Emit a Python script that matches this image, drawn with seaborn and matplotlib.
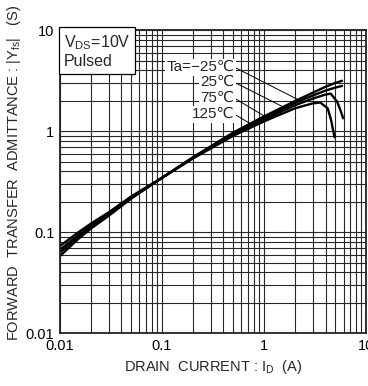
import numpy as np
import pandas as pd
import matplotlib
matplotlib.use("Agg")
import matplotlib.pyplot as plt
import seaborn as sns

# Data
temps = ["-25", "25", "75", "125"]
x_m25 = [0.01, 0.015, 0.02, 0.03, 0.05, 0.1, 0.2, 0.5, 1.0, 2.0, 3.0, 4.0, 5.0, 5.8]
y_m25 = [0.058, 0.085, 0.108, 0.145, 0.215, 0.345, 0.55, 0.97, 1.40, 1.98, 2.40, 2.75, 3.00, 3.15]
x_25 = [0.01, 0.015, 0.02, 0.03, 0.05, 0.1, 0.2, 0.5, 1.0, 2.0, 3.0, 4.0, 5.0, 5.8]
y_25 = [0.063, 0.089, 0.112, 0.149, 0.219, 0.345, 0.545, 0.95, 1.35, 1.90, 2.25, 2.52, 2.70, 2.80]
x_75 = [0.01, 0.015, 0.02, 0.03, 0.05, 0.1, 0.2, 0.5, 1.0, 2.0, 3.0, 4.0, 4.5, 5.2, 5.6, 5.95]
y_75 = [0.067, 0.093, 0.116, 0.153, 0.222, 0.345, 0.54, 0.93, 1.30, 1.80, 2.10, 2.30, 2.35, 1.95, 1.61, 1.34]
x_125 = [0.01, 0.015, 0.02, 0.03, 0.05, 0.1, 0.2, 0.5, 1.0, 2.0, 2.6, 3.0, 3.55, 4.2, 4.53, 4.9]
y_125 = [0.073, 0.099, 0.121, 0.157, 0.226, 0.345, 0.535, 0.90, 1.25, 1.68, 1.81, 1.88, 1.92, 1.68, 1.29, 0.87]

xs = [x_m25, x_25, x_75, x_125]
ys = [y_m25, y_25, y_75, y_125]

rows = []
for t, xx, yy in zip(temps, xs, ys):
    for i, (a, b) in enumerate(zip(xx, yy)):
        rows.append({"Ta": t, "order": i, "Id": a, "Yfs": b})
df = pd.DataFrame(rows)

sns.set_style("white")
plt.rcParams["font.family"] = ["Liberation Sans", "DejaVu Sans"]
plt.rcParams["mathtext.fontset"] = "custom"
plt.rcParams["mathtext.rm"] = "Liberation Sans"

fig = plt.figure(figsize=(3.68, 3.86), dpi=100)
ax = fig.add_axes([0.163, 0.137, 0.832, 0.785])

sns.lineplot(data=df, x="Id", y="Yfs", hue="Ta", units="Ta", estimator=None,
             sort=False, palette=["black"] * 4, linewidth=1.7, legend=False, ax=ax)

ax.set_xscale("log")
ax.set_yscale("log")
ax.set_xlim(0.01, 10)
ax.set_ylim(0.01, 10)
ax.grid(which="both", color="#262626", linewidth=0.8)
ax.set_axisbelow(True)
for s in ax.spines.values():
    s.set_color("#222222")
    s.set_linewidth(1.3)
ax.tick_params(which="both", length=0, labelsize=10.5, pad=4, colors="black")
ax.set_xticks([0.01, 0.1, 1, 10])
ax.set_xticklabels(["0.01", "0.1", "1", "10"])
ax.set_yticks([0.01, 0.1, 1, 10])
ax.set_yticklabels(["0.01", "0.1", "1", "10"])

ax.set_xlabel("DRAIN  CURRENT : I$_{\\mathrm{D}}$  (A)", fontsize=10.5, labelpad=4)
ax.set_ylabel("FORWARD  TRANSFER  ADMITTANCE : |Y$_{\\mathrm{fs}}$|   (S)", fontsize=10.5)
ax.yaxis.set_label_coords(-0.122, 0.53)

ax.text(0.012, 0.988, "V$_{\\mathrm{DS}}$=10V\nPulsed", transform=ax.transAxes,
        ha="left", va="top", fontsize=11.5, linespacing=1.15,
        bbox=dict(boxstyle="square,pad=0.3", fc="white", ec="black", lw=0.9), zorder=5)

labels = ["Ta=\u221225\u2103", "25\u2103", "75\u2103", "125\u2103"]
label_y = [0.878, 0.828, 0.776, 0.723]
target_x = [2.3, 1.6, 1.08, 0.8]
for lab, ly, tx, xx, yy in zip(labels, label_y, target_x, xs, ys):
    ty = 10 ** np.interp(np.log10(tx), np.log10(xx[:10]), np.log10(yy[:10]))
    ax.annotate(lab, xy=(tx, ty), xycoords="data", xytext=(0.569, ly),
                textcoords="axes fraction", ha="right", va="center", fontsize=11,
                bbox=dict(boxstyle="square,pad=0.1", fc="white", ec="none"),
                arrowprops=dict(arrowstyle="-", color="black", lw=0.7,
                                shrinkA=0, shrinkB=0, relpos=(1.0, 0.5)),
                zorder=6)

fig.savefig("out.png", dpi=100)
